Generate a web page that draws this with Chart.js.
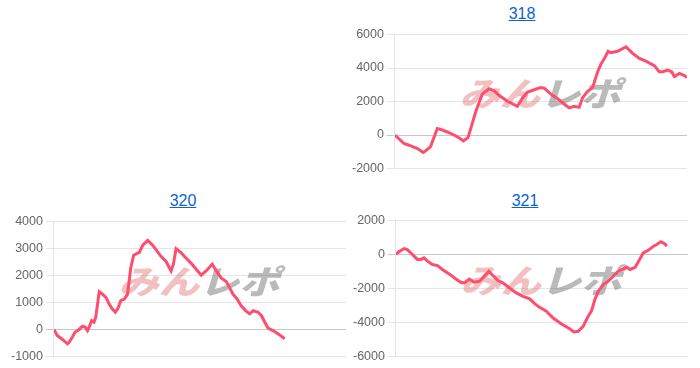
<!DOCTYPE html>
<html>
<head>
<meta charset="utf-8">
<script src="https://cdn.jsdelivr.net/npm/chart.js@4"></script>
<style>
  body { margin: 0; width: 700px; height: 368px; background: #fff; font-family: "Liberation Sans", Arial, sans-serif; position: relative; overflow: hidden; }
  .title { position: absolute; width: 120px; text-align: center; font-size: 16px; }
  .title a { color: #0b66cf; text-decoration: underline; }
  .box { position: absolute; }
</style>
</head>
<body>
<div class="title" style="left:462px; top:5px;"><a href="#">318</a></div>
<div class="box" style="left:349px; top:24px; width:340px; height:155px;"><canvas id="c318"></canvas></div>

<div class="title" style="left:123px; top:192px;"><a href="#">320</a></div>
<div class="box" style="left:8px; top:211px; width:340px; height:156px;"><canvas id="c320"></canvas></div>

<div class="title" style="left:465px; top:192px;"><a href="#">321</a></div>
<div class="box" style="left:350px; top:210px; width:340px; height:157px;"><canvas id="c321"></canvas></div>

<script>
// position along the hidden x axis (0..100) and the value there
const x318 = [0, 3.1, 4.8, 7.7, 9.7, 10.5, 12.2, 14.5, 15.7, 17.9, 20.2, 21.9, 23.4, 25.0, 26.2, 27.7, 29.9, 32.2, 33.9, 36.2, 38.5, 40.8, 41.9, 43.7, 45.4, 47.7, 49.9, 51.1, 53.4, 55.7, 57.9, 59.7, 61.4, 63.1, 64.2, 65.9, 67.7, 69.4, 70.5, 71.7, 73.0, 73.9, 76.2, 79.1, 81.4, 83.7, 85.9, 88.8, 90.5, 91.7, 93.4, 94.7, 95.7, 97.4, 99.1, 100];
const y318 = [0, -510, -610, -810, -1040, -950, -690, 390, 330, 180, 0, -160, -350, -160, 530, 1420, 2440, 2760, 2640, 2300, 2010, 1810, 1710, 2210, 2560, 2700, 2840, 2800, 2440, 2170, 1850, 1620, 1710, 1650, 2210, 2600, 2840, 3780, 4220, 4570, 5000, 4910, 5000, 5260, 4870, 4570, 4410, 4140, 3780, 3780, 3880, 3780, 3490, 3680, 3550, 3430];

const x320 = [0, 1.1, 2.9, 4.6, 5.2, 6.3, 7.2, 8.6, 9.7, 10.7, 11.5, 12.3, 12.9, 13.7, 14.3, 15.5, 16.6, 17.8, 18.9, 20.0, 21.0, 21.8, 22.9, 24.1, 25.2, 26.3, 27.3, 28.3, 29.2, 30.4, 32.1, 33.8, 34.9, 36.7, 38.4, 40.1, 40.9, 41.8, 43.5, 44.7, 47.0, 48.7, 50.4, 52.1, 54.2, 55.6, 57.3, 59.0, 60.1, 61.3, 62.7, 64.1, 65.6, 67.0, 68.2, 69.9, 71.0, 72.2, 73.3, 75.0, 76.7, 77.9, 79.0];
const y320 = [0, -220, -370, -530, -470, -280, -100, 0, 120, 90, -40, 150, 330, 270, 450, 1400, 1310, 1190, 940, 760, 640, 760, 1070, 1130, 1310, 2290, 2750, 2810, 2850, 3120, 3300, 3120, 2970, 2700, 2520, 2170, 2420, 2990, 2850, 2700, 2450, 2230, 2010, 2170, 2420, 2170, 1900, 1780, 1560, 1310, 1130, 880, 700, 580, 700, 640, 520, 270, 50, -40, -160, -250, -340];

const x321 = [0, 1.0, 2.8, 3.9, 5.0, 6.2, 7.3, 8.5, 9.6, 10.8, 12.5, 14.2, 15.9, 18.2, 20.5, 22.2, 23.4, 25.1, 26.8, 28.6, 30.3, 31.8, 33.1, 34.9, 36.6, 38.9, 41.2, 43.5, 45.8, 47.5, 49.2, 51.5, 53.8, 56.7, 59.5, 60.9, 62.4, 64.1, 65.5, 67.0, 68.1, 69.3, 71.0, 72.7, 74.4, 76.1, 77.9, 79.0, 80.2, 81.9, 83.0, 84.7, 86.5, 88.2, 89.3, 90.7, 92.0, 92.8];
const y321 = [0, 160, 350, 290, 100, -100, -290, -290, -200, -390, -590, -650, -880, -1140, -1440, -1630, -1670, -1440, -1630, -1570, -1280, -980, -1220, -1530, -1670, -1970, -2260, -2460, -2610, -2890, -3110, -3340, -3740, -4090, -4360, -4560, -4520, -4230, -3740, -3300, -2650, -2160, -1770, -1570, -1280, -980, -830, -750, -880, -750, -430, 100, 260, 490, 590, 750, 630, 490];

const lineColor = '#ff4d6d';

// faint logo behind the line
const watermark = {
    id: 'watermark',
    beforeDatasetsDraw(chart) {
        const { ctx, chartArea: a } = chart;
        const cx = (a.left + a.right) / 2 - 1;
        const cy = (a.top + a.bottom) / 2 - 8;
        ctx.save();
        ctx.translate(cx, cy);
        ctx.scale(1.22, 1);
        ctx.font = 'italic 900 33px "Noto Sans CJK JP"';
        ctx.textBaseline = 'middle';
        const w1 = ctx.measureText('みん').width;
        const w2 = ctx.measureText('レポ').width;
        const x0 = -(w1 + w2) / 2;
        ctx.fillStyle = 'rgba(225, 105, 105, 0.42)';
        ctx.fillText('みん', x0, 0);
        ctx.fillStyle = 'rgba(110, 110, 110, 0.48)';
        ctx.fillText('レポ', x0 + w1, 0);
        ctx.restore();
    }
};

function makeChart(id, xs, ys, min, max, step) {
    const ctx = document.getElementById(id).getContext('2d');
    return new Chart(ctx, {
        type: 'line',
        data: {
            datasets: [{
                data: xs.map((x, i) => ({ x: x, y: ys[i] })),
                borderColor: lineColor,
                borderWidth: 3,
                pointRadius: 0,
                tension: 0,
                fill: false
            }]
        },
        options: {
            responsive: true,
            maintainAspectRatio: false,
            animation: false,
            layout: { padding: { right: 2 } },
            plugins: { legend: { display: false }, tooltip: { enabled: false } },
            scales: {
                x: { type: 'linear', min: 0, max: 100, display: false },
                y: {
                    min: min,
                    max: max,
                    ticks: {
                        stepSize: step,
                        color: '#666',
                        font: { family: '"Liberation Sans", Arial', size: 12.5 },
                        callback: v => String(v)
                    },
                    grid: {
                        color: c => c.tick && c.tick.value === 0 ? 'rgba(0,0,0,0.22)' : 'rgba(0,0,0,0.1)'
                    },
                    border: { color: 'rgba(0,0,0,0.1)' }
                }
            }
        },
        plugins: [watermark]
    });
}

makeChart('c318', x318, y318, -2000, 6000, 2000);
makeChart('c320', x320, y320, -1000, 4000, 1000);
makeChart('c321', x321, y321, -6000, 2000, 2000);
</script>
</body>
</html>
